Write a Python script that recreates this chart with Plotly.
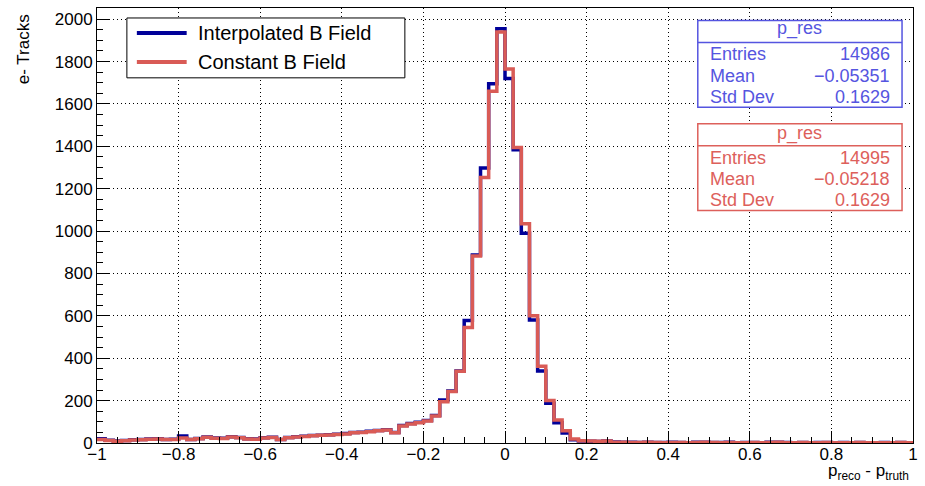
import numpy as np
import plotly.graph_objects as go

# Histogram binning: 100 bins on [-1, 1]
x_min, x_max, n_bins = -1.0, 1.0, 100

# Bin contents (e- tracks per bin), Constant B Field
const_counts = [
    17, 12, 8, 11, 14, 15, 18, 19, 16, 17,
    24, 16, 20, 27, 23, 21, 28, 25, 19, 18,
    24, 26, 16, 25, 28, 31, 34, 36, 38, 40,
    43, 48, 50, 53, 58, 61, 48, 80, 90, 96,
    104, 128, 195, 243, 338, 545, 883, 1253, 1660, 1940,
    1765, 1395, 1035, 600, 362, 200, 108, 58, 19, 11,
    9, 8, 9, 4, 3, 2, 2, 3, 2, 1,
    2, 2, 1, 2, 3, 2, 1, 2, 1, 1,
    2, 1, 2, 3, 1, 1, 2, 1, 1, 2,
    1, 1, 1, 2, 1, 1, 1, 1, 2, 1,
]

# Bin contents (e- tracks per bin), Interpolated B Field
interp_counts = [
    20, 13, 9, 12, 15, 17, 19, 20, 17, 18,
    33, 17, 21, 28, 24, 22, 29, 26, 20, 19,
    25, 27, 17, 26, 29, 32, 35, 37, 39, 41,
    45, 49, 51, 55, 59, 62, 49, 82, 92, 98,
    106, 130, 203, 245, 340, 578, 887, 1298, 1695, 1955,
    1720, 1384, 990, 580, 340, 188, 95, 47, 15, 10,
    8, 7, 9, 5, 3, 3, 2, 4, 2, 2,
    3, 2, 1, 3, 3, 2, 2, 3, 1, 2,
    2, 1, 3, 3, 2, 1, 2, 1, 2, 2,
    1, 2, 1, 2, 1, 1, 2, 1, 2, 1,
]

series_names = ["Interpolated B Field", "Constant B Field"]
stats_interp = {"Entries": "14986", "Mean": "\u22120.05351", "Std Dev": "0.1629"}
stats_const = {"Entries": "14995", "Mean": "\u22120.05218", "Std Dev": "0.1629"}

BLUE = "#000099"
RED = "#d95b56"
STAT_BLUE = "#5555e0"
STAT_RED = "#dd605b"
FONT = "Liberation Sans, Arial, Helvetica, sans-serif"

W, H = 925, 486
ML, MR, MT, MB = 97, 9, 7, 43
PW, PH = W - ML - MR, H - MT - MB


def px(x):
    return (x - ML) / PW


def py(y):
    return (H - MB - y) / PH


edges = np.linspace(x_min, x_max, n_bins + 1)

fig = go.Figure()
for counts, color in ((interp_counts, BLUE), (const_counts, RED)):
    fig.add_trace(go.Scatter(
        x=edges,
        y=list(counts) + [counts[-1]],
        mode="lines",
        line=dict(shape="hv", color=color, width=3.5),
        showlegend=False,
        hoverinfo="skip",
    ))

ymax = 1.05 * max(max(const_counts), max(interp_counts))

axis_common = dict(
    showline=True, linecolor="black", linewidth=1, mirror=True,
    ticks="inside", ticklen=12, tickwidth=1, tickcolor="black",
    showgrid=True, gridcolor="black", gridwidth=1, griddash="1px,3px",
    zeroline=False,
    tickfont=dict(family=FONT, size=17, color="black"),
)

fig.update_xaxes(range=[x_min, x_max], tick0=-1, dtick=0.2, ticklabelstandoff=-4,
                 minor=dict(ticks="inside", ticklen=6, dtick=0.05, tickcolor="black", showgrid=False),
                 **axis_common)
fig.update_yaxes(range=[0, ymax], tick0=0, dtick=200,
                 minor=dict(ticks="inside", ticklen=6, dtick=50, tickcolor="black", showgrid=False),
                 **axis_common)

shapes = []
annotations = []

# Legend box
shapes.append(dict(type="rect", xref="paper", yref="paper",
                   x0=px(127), x1=px(406), y0=py(17), y1=py(77),
                   line=dict(color="black", width=1), fillcolor="white", layer="above"))
for name, color, yrow in ((series_names[0], BLUE, 32), (series_names[1], RED, 61)):
    shapes.append(dict(type="line", xref="paper", yref="paper",
                       x0=px(137), x1=px(187), y0=py(yrow), y1=py(yrow),
                       line=dict(color=color, width=4), layer="above"))
    annotations.append(dict(xref="paper", yref="paper", x=px(196), y=py(yrow),
                            text=name, showarrow=False, xanchor="left", yanchor="middle",
                            font=dict(family=FONT, size=20, color="black")))


def stats_box(top, bottom, sep, title_y, rows_y, values, color):
    shapes.append(dict(type="rect", xref="paper", yref="paper",
                       x0=px(700), x1=px(905), y0=py(top), y1=py(bottom),
                       line=dict(color=color, width=1.5), fillcolor="white", layer="above"))
    shapes.append(dict(type="line", xref="paper", yref="paper",
                       x0=px(700), x1=px(905), y0=py(sep), y1=py(sep),
                       line=dict(color=color, width=1.5), layer="above"))
    annotations.append(dict(xref="paper", yref="paper", x=px(802), y=py(title_y),
                            text="p_res", showarrow=False, xanchor="center", yanchor="middle",
                            font=dict(family=FONT, size=18, color=color)))
    for (label, val), yy in zip(values.items(), rows_y):
        annotations.append(dict(xref="paper", yref="paper", x=px(710), y=py(yy),
                                text=label, showarrow=False, xanchor="left", yanchor="middle",
                                font=dict(family=FONT, size=18, color=color)))
        annotations.append(dict(xref="paper", yref="paper", x=px(895), y=py(yy),
                                text=val, showarrow=False, xanchor="right", yanchor="middle",
                                font=dict(family=FONT, size=18, color=color)))


stats_box(19.5, 106.5, 41.7, 28, (53.5, 75, 96.5), stats_interp, STAT_BLUE)
stats_box(123, 210, 145, 133, (157, 178.5, 199.5), stats_const, STAT_RED)

# Axis titles
annotations.append(dict(xref="paper", yref="paper", x=px(914), y=py(472),
                        text="p<sub>reco</sub> - p<sub>truth</sub>", showarrow=False,
                        xanchor="right", yanchor="middle",
                        font=dict(family=FONT, size=17, color="black")))
annotations.append(dict(xref="paper", yref="paper", x=px(24), y=py(11),
                        text="e- Tracks", showarrow=False, textangle=-90,
                        xanchor="center", yanchor="top",
                        font=dict(family=FONT, size=17, color="black")))

fig.update_layout(
    width=W, height=H,
    margin=dict(l=ML, r=MR, t=MT, b=MB, pad=0),
    paper_bgcolor="white", plot_bgcolor="white",
    shapes=shapes, annotations=annotations,
    showlegend=False,
    font=dict(family=FONT, color="black"),
)

fig.write_html("out.html")
